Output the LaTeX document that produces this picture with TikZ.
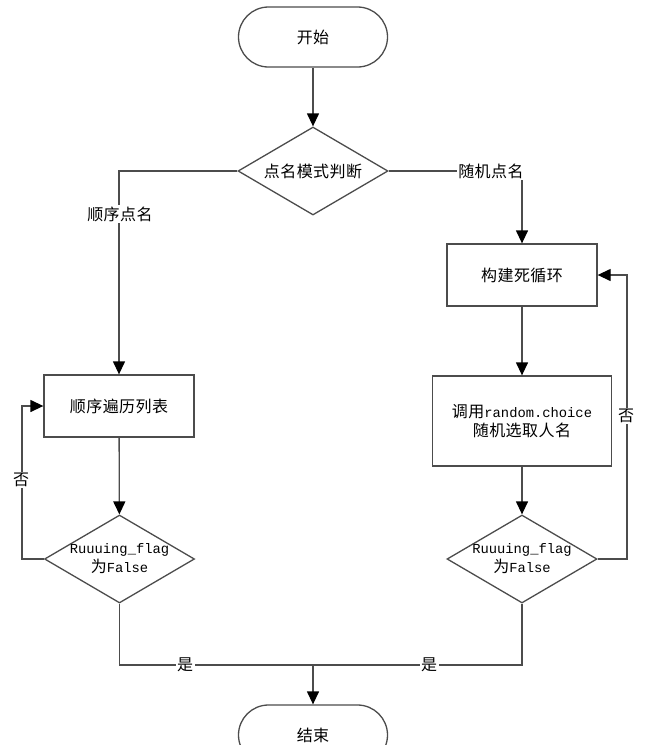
\documentclass[tikz,border=0pt]{standalone}
\usepackage{fontspec}
\setmainfont[LetterSpace=3]{Noto Sans CJK SC}
\newfontfamily\monof{Liberation Mono}
\usetikzlibrary{arrows.meta,shapes.geometric}
\begin{document}
\begin{tikzpicture}[x=1pt,y=-1pt,
  line/.style={draw=black!70, line width=1.3pt},
  arr/.style={line, -{Triangle[width=12pt,length=13pt,color=black]}},
  term/.style={draw=black!70, line width=1.3pt, rounded corners=30pt, minimum width=149pt, minimum height=60pt, inner sep=0pt, font=\fontsize{16}{19}\selectfont},
  box/.style={draw=black!70, line width=1.3pt, minimum width=150pt, minimum height=62pt, inner sep=0pt, align=center, font=\fontsize{16}{19}\selectfont},
  dia/.style={diamond, draw=black!70, line width=1.3pt, minimum width=150pt, minimum height=88pt, inner sep=0pt},
  txt/.style={font=\fontsize{16}{19}\selectfont, align=center, inner sep=1pt},
  lbl/.style={txt, fill=white, inner sep=1.5pt},
  lat/.style={}
]
\useasboundingbox (0,0) rectangle (647,745);
% nodes
\node[term] (start) at (313,37) {开始};
\node[dia] (d1) at (313,171) {};
\node[txt] (d1t) at (d1.center) {点名模式判断};
\node[box] (b1) at (119,406) {顺序遍历列表};
\node[box] (b2) at (522,275) {构建死循环};
\node[box, minimum width=179pt, minimum height=90pt] (b3) at (522,421) {调用{\monof\fontsize{13.8}{19}\selectfont random.choice}\\随机选取人名};
\node[dia] (d3) at (119.5,559) {};
\node[txt] (d3t) at (d3.center) {{\monof\fontsize{13.8}{19}\selectfont Ruuuing\_flag}\\为{\monof\fontsize{13.8}{19}\selectfont False}};
\node[dia] (d2) at (522,559) {};
\node[txt] (d2t) at (d2.center) {{\monof\fontsize{13.8}{19}\selectfont Ruuuing\_flag}\\为{\monof\fontsize{13.8}{19}\selectfont False}};
\node[term] (end) at (313,735) {结束};
% helper coordinates
\coordinate (cr) at (627,559);
\coordinate (cl) at (22,559);
\coordinate (m) at (313,665);
% connectors
\draw[arr] (start) -- (d1);
\draw[arr] (d1.west) -| (b1.north);
\draw[arr] (d1.east) -| (b2.north);
\draw[arr] (b2) -- (b3);
\draw[arr] (b3) -- (d2);
\draw[arr] (b1) -- (d3);
\draw[arr] (d2.east) -- (cr) |- (b2.east);
\draw[arr] (d3.west) -- (cl) |- (b1.west);
\draw[line] (d3.south) |- (m);
\draw[line] (d2.south) |- (m);
\draw[arr] (m) -- (end);
% labels
\node[lbl] (l1) at (120,214) {顺序点名};
\node[lbl] (l2) at (491,171) {随机点名};
\node[lbl] (l3) at (626,416) {否};
\node[lbl] (l4) at (21,480) {否};
\node[lbl] (l5) at (185,665) {是};
\node[lbl] (l6) at (429,665) {是};
\end{tikzpicture}
\end{document}
